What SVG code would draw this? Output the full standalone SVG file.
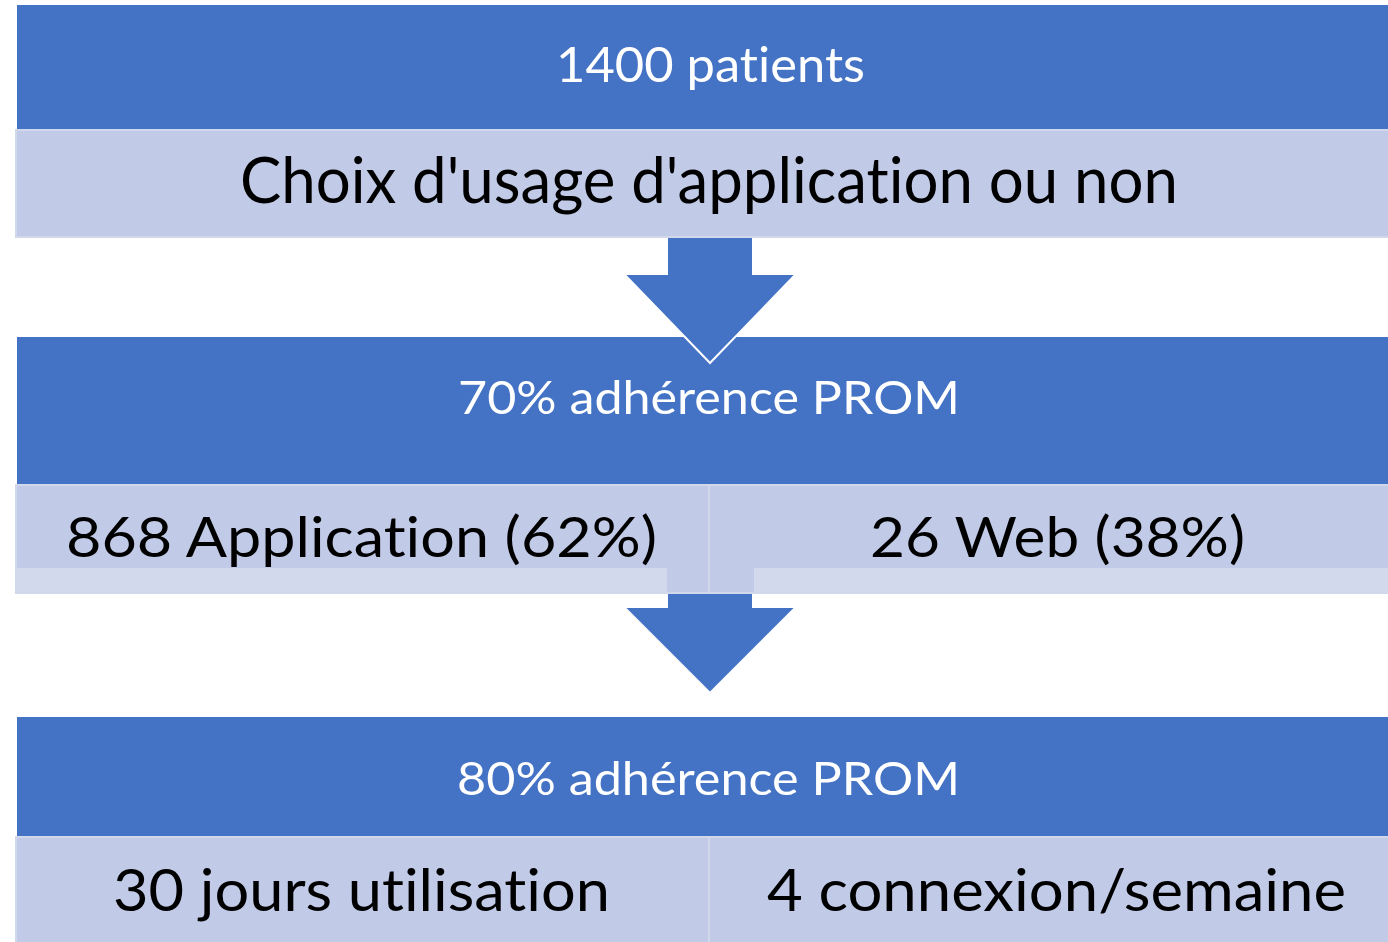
<svg xmlns="http://www.w3.org/2000/svg" width="1388" height="942" viewBox="0 0 1388 942">
  <style>
    .band { fill: #4472C4; }
    .cell { fill: #C1CAE6; stroke: #D2D8EC; stroke-width: 2; }
    .strip { fill: #D3D9EC; }
    .arrow { fill: #4472C4; stroke: #FFFFFF; stroke-width: 2; stroke-linejoin: miter; }
    text { font-family: Lato, "Open Sans", sans-serif; text-anchor: middle; font-variant-ligatures: none; font-feature-settings: "liga" 0, "clig" 0; }
    .wt { fill: #FFFFFF; }
    .bt { fill: #000000; }
  </style>
  <rect width="1388" height="942" fill="#FFFFFF"/>

  <g id="node-70-adherence">
    <rect class="band" x="17" y="337" width="1371" height="147"/>
  </g>

  <g id="connectors">
    <polygon class="arrow" points="667,236 753,236 753,274 796,274 710,363 624,274 667,274"/>
    <polygon class="arrow" points="667,568 753,568 753,607 796,607 710,693 624,607 667,607"/>
  </g>

  <g id="label-70-adherence">
    <text class="wt" x="709" y="414" font-size="46" textLength="502" lengthAdjust="spacingAndGlyphs">70% adhérence PROM</text>
  </g>

  <g id="node-1400-patients">
    <rect class="band" x="17" y="5" width="1371" height="124"/>
    <text class="wt" x="710.5" y="82" font-size="48" textLength="309" lengthAdjust="spacingAndGlyphs">1400 patients</text>
  </g>

  <g id="node-choix">
    <rect class="cell" x="16" y="130" width="1374" height="107"/>
    <text class="bt" x="709" y="203" font-size="63" textLength="938" lengthAdjust="spacingAndGlyphs">Choix d'usage d'application ou non</text>
  </g>

  <g id="node-868-application">
    <rect class="cell" x="16" y="485" width="693" height="108"/>
    <rect class="strip" x="16" y="568" width="651" height="25"/>
    <text class="bt" x="361.5" y="557" font-size="57" textLength="591" lengthAdjust="spacingAndGlyphs">868 Application (62%)</text>
  </g>

  <g id="node-26-web">
    <rect class="cell" x="709" y="485" width="681" height="108"/>
    <rect class="strip" x="754" y="568" width="634" height="25"/>
    <text class="bt" x="1057.5" y="557" font-size="57" textLength="375" lengthAdjust="spacingAndGlyphs">26 Web (38%)</text>
  </g>

  <g id="node-80-adherence">
    <rect class="band" x="17" y="717" width="1371" height="119"/>
    <text class="wt" x="708.5" y="795" font-size="46" textLength="503" lengthAdjust="spacingAndGlyphs">80% adhérence PROM</text>
  </g>

  <g id="node-30-jours">
    <rect class="cell" x="16" y="837" width="693" height="107"/>
    <text class="bt" x="361.5" y="911" font-size="59" textLength="497" lengthAdjust="spacingAndGlyphs">30 jours utilisation</text>
  </g>

  <g id="node-4-connexion">
    <rect class="cell" x="709" y="837" width="681" height="107"/>
    <text class="bt" x="1056.5" y="911" font-size="59" textLength="579" lengthAdjust="spacingAndGlyphs">4 connexion/semaine</text>
  </g>
</svg>
